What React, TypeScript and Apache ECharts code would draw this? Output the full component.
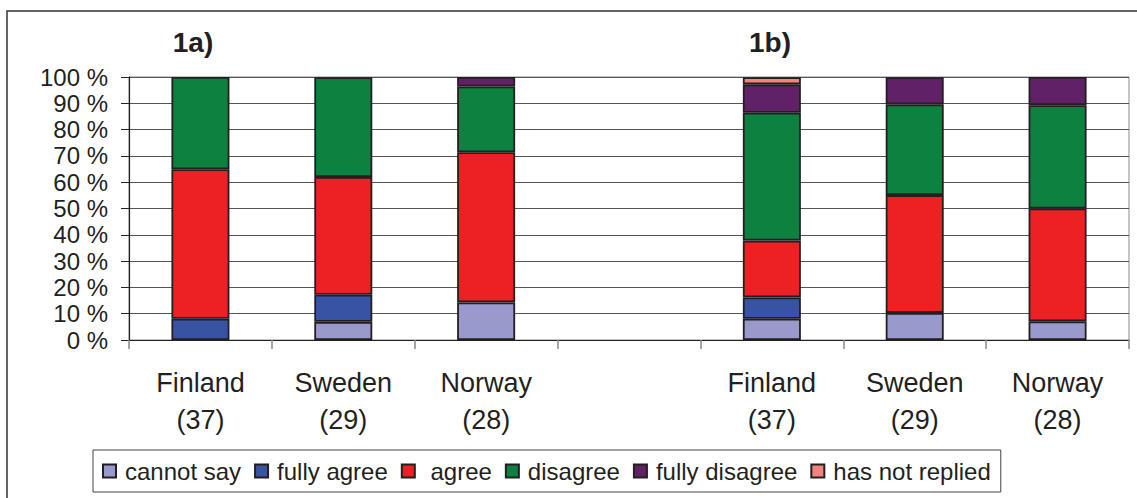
import React, { useEffect, useRef } from "react";
import * as echarts from "echarts";

const categories = ["Finland\n(37)", "Sweden\n(29)", "Norway\n(28)", "", "Finland\n(37)", "Sweden\n(29)", "Norway\n(28)"];
const seriesNames = ["cannot say", "fully agree", " agree", "disagree", "fully disagree", "has not replied"];
const cannotSay = [0, 6.9, 14.3, null, 8.1, 10.3, 7.1];
const fullyAgree = [8.1, 10.3, 0, null, 8.1, 0, 0];
const agree = [56.8, 44.8, 57.1, null, 21.6, 44.8, 42.9];
const disagree = [35.1, 37.9, 25.0, null, 48.6, 34.5, 39.3];
const fullyDisagree = [0, 0, 3.6, null, 10.8, 10.3, 10.7];
const hasNotReplied = [0, 0, 0, null, 2.7, 0, 0];
const panelTitles = ["1a)", "1b)"];

const colors = ["#9999CC", "#3953A4", "#ED2024", "#0D8140", "#612166", "#F4827F"];
const FONT = "'Liberation Sans', Arial, sans-serif";
const TEXT = "#231F20";

export default function App() {
  const ref = useRef<HTMLDivElement>(null);
  useEffect(() => {
    document.body.style.margin = "0";
    const chart = echarts.init(ref.current!, null, { renderer: "svg" });
    const data = [cannotSay, fullyAgree, agree, disagree, fullyDisagree, hasNotReplied];
    chart.setOption({
      animation: false,
      textStyle: { fontFamily: FONT, color: TEXT },
      grid: {
        left: 129, right: 8, top: 77, bottom: 158,
        show: true, borderColor: "#8a8a8a", borderWidth: 1,
      },
      graphic: [
        { type: "rect", shape: { x: 7, y: 11, width: 1300, height: 700 }, style: { fill: "none", stroke: "#333", lineWidth: 1.5 }, silent: true },
        { type: "text", x: 193, y: 42, style: { text: panelTitles[0], font: `bold 28px ${FONT}`, fill: TEXT, textAlign: "center", textVerticalAlign: "middle" } },
        { type: "text", x: 770, y: 42, style: { text: panelTitles[1], font: `bold 28px ${FONT}`, fill: TEXT, textAlign: "center", textVerticalAlign: "middle" } },
      ],
      legend: {
        left: 93, top: 450,
        itemWidth: 13, itemHeight: 13, itemGap: 13,
        padding: [9, 10, 9, 9],
        borderColor: "#444", borderWidth: 1,
        icon: "rect",
        textStyle: { fontSize: 24, fontFamily: FONT, color: TEXT, padding: [0, 0, 0, 4] },
        data: seriesNames,
      },
      xAxis: {
        type: "category",
        data: categories,
        axisLine: { lineStyle: { color: "#222", width: 1.2 } },
        axisTick: { show: true, length: 9, lineStyle: { color: "#888", width: 1.5 }, alignWithLabel: false },
        axisLabel: { interval: 0, margin: 24, fontSize: 27, lineHeight: 37, color: TEXT, fontFamily: FONT },
        splitLine: { show: false },
      },
      yAxis: {
        type: "value",
        min: 0, max: 100, interval: 10,
        axisLine: { show: true, lineStyle: { color: "#222", width: 1.2 } },
        axisTick: { show: true, length: 8, lineStyle: { color: "#222" } },
        axisLabel: { formatter: "{value} %", fontSize: 24, margin: 21, color: TEXT, fontFamily: FONT },
        splitLine: { show: true, lineStyle: { color: "#555", width: 1 } },
      },
      series: seriesNames.map((name, i) => ({
        name,
        type: "bar",
        stack: "total",
        barWidth: 58,
        data: data[i].map((v) => (v === 0 || v === null ? "-" : v)),
        itemStyle: { color: colors[i], borderColor: "#231F20", borderWidth: 1.8 },
      })),
    });
    return () => chart.dispose();
  }, []);
  return <div ref={ref} style={{ width: 1137, height: 498 }} />;
}
